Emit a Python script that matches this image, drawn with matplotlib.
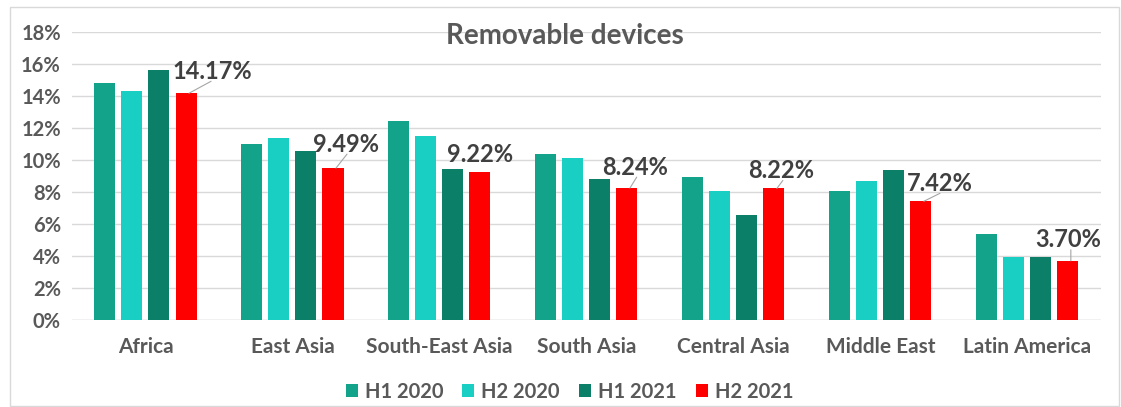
import matplotlib
matplotlib.use("Agg")
import matplotlib.pyplot as plt
import numpy as np
from matplotlib.patches import Rectangle

regions = ["Africa", "East Asia", "South-East Asia", "South Asia",
           "Central Asia", "Middle East", "Latin America"]
series_names = ["H1 2020", "H2 2020", "H1 2021", "H2 2021"]
h1_2020 = [14.8, 11.0, 12.45, 10.36, 8.95, 8.04, 5.35]
h2_2020 = [14.3, 11.4, 11.5, 10.15, 8.06, 8.7, 3.96]
h1_2021 = [15.6, 10.55, 9.45, 8.82, 6.58, 9.4, 3.96]
h2_2021 = [14.17, 9.49, 9.22, 8.24, 8.22, 7.42, 3.70]
yticks = [0, 2, 4, 6, 8, 10, 12, 14, 16, 18]

colors = ["#12A38A", "#19CEC3", "#0B7F68", "#FF0000"]
# label offsets in pixels (dx, dy) relative to bar top
label_offsets = [(26, 22), (13, 24), (0, 18), (8, 21), (7, 18), (19, 18), (0, 21)]

plt.rcParams['font.family'] = ['Lato', 'DejaVu Sans']

fig = plt.figure(figsize=(11.21, 4.07), dpi=100)
ax = fig.add_axes([0.0642, 0.2138, 0.9178, 0.7076])

x = np.arange(len(regions))
w = 0.143
step = 0.184
all_series = [h1_2020, h2_2020, h1_2021, h2_2021]
for i, (vals, c, name) in enumerate(zip(all_series, colors, series_names)):
    ax.bar(x + (i - 1.5) * step, vals, width=w, color=c, label=name, zorder=3)

for j, v in enumerate(h2_2021):
    bx = x[j] + 1.5 * step
    dx, dy = label_offsets[j]
    ax.annotate(f"{v:.2f}%", xy=(bx, v), xytext=(dx, dy), textcoords='offset pixels',
                ha='center', va='center', fontsize=17, fontweight='bold', color='#404040',
                zorder=5)
    if dx > 5 or dy > 20:
        ax.annotate("", xy=(bx + 0.02, v), xytext=(dx * 0.85, dy - 10), textcoords='offset pixels',
                    arrowprops=dict(arrowstyle='-', color='#A6A6A6', lw=0.8, shrinkA=0, shrinkB=0))

ax.set_xlim(-0.5, len(regions) - 0.5)
ax.set_ylim(0, 18)
ax.set_yticks(yticks)
ax.set_yticklabels([f"{t}%" for t in yticks])
ax.set_xticks(x)
ax.set_xticklabels(regions)
ax.tick_params(axis='both', length=0, colors='#595959')
ax.tick_params(axis='x', pad=12, labelsize=15)
ax.tick_params(axis='y', pad=8, labelsize=14.5)
for lab in ax.get_xticklabels() + ax.get_yticklabels():
    lab.set_fontweight('bold')
ax.grid(axis='y', color='#D9D9D9', lw=1, zorder=0)
for s in ax.spines.values():
    s.set_visible(False)
ax.axhline(0, color='#D9D9D9', lw=1, zorder=2)

fig.text(0.504, 0.912, "Removable devices", ha='center', va='center',
         fontsize=20, fontweight='bold', color='#595959')

leg = fig.legend(loc='center', bbox_to_anchor=(0.508, 0.038), ncol=4, frameon=False,
                 fontsize=14.5, handlelength=0.6, handleheight=0.6, handletextpad=0.35,
                 columnspacing=0.95)
for t in leg.get_texts():
    t.set_color('#595959')
    t.set_fontweight('bold')

fig.patches.append(Rectangle((10 / 1121, 0.002), 1109 / 1121, 1 - 7 / 407 - 0.002,
                             transform=fig.transFigure, fill=False,
                             edgecolor='#D9D9D9', lw=1))

fig.savefig("out.png", dpi=100)
